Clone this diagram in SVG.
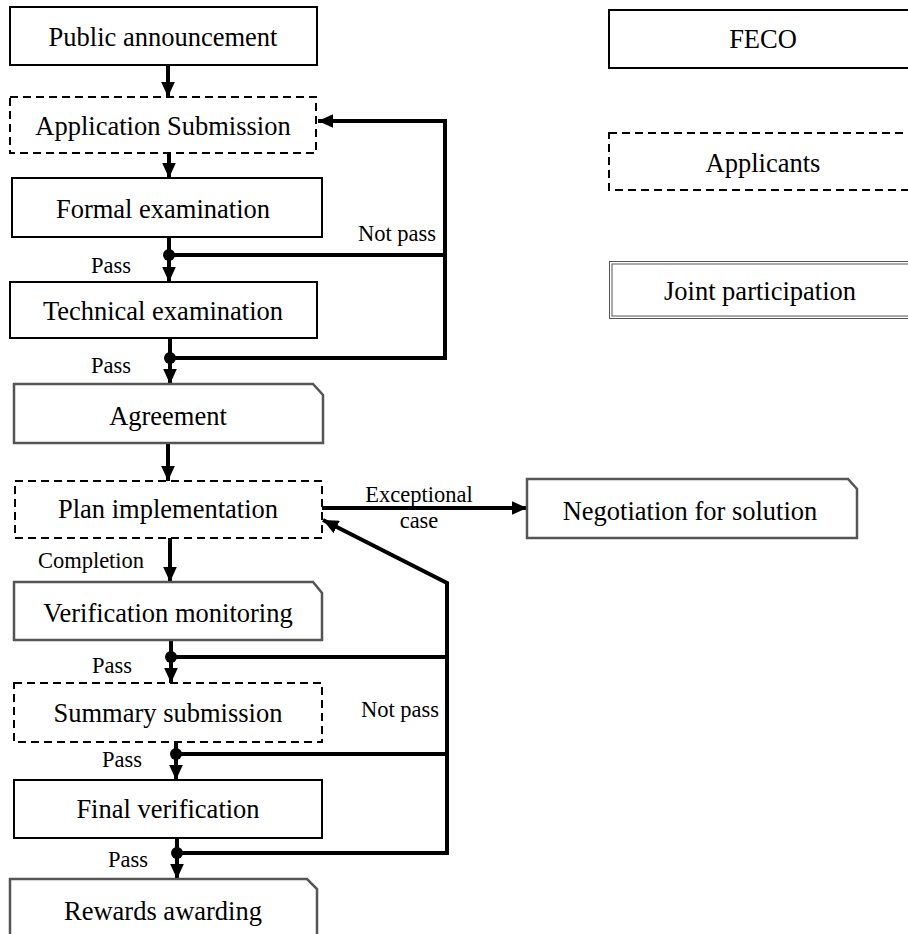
<svg xmlns="http://www.w3.org/2000/svg" width="908" height="934" viewBox="0 0 908 934">
<defs>
<marker id="ah" viewBox="0 0 11 10" refX="11" refY="5" markerWidth="3.85" markerHeight="3.5" markerUnits="strokeWidth" orient="auto">
<path d="M0,0 L11,5 L0,10 Z" fill="#000"/>
</marker>
<style>
.solid{fill:#fff;stroke:#000;stroke-width:2}
.dash{fill:#fff;stroke:#000;stroke-width:2;stroke-dasharray:8 5}
.fold{fill:#fff;stroke:#555;stroke-width:2.5}
.dbl{fill:none;stroke:#555;stroke-width:1}
.t{font-family:"Liberation Serif","Times New Roman",serif;font-size:26.5px;fill:#000;text-anchor:middle}
.l{font-family:"Liberation Serif","Times New Roman",serif;font-size:22.5px;fill:#000;text-anchor:middle}
.c{fill:none;stroke:#000;stroke-width:4}
.a{fill:none;stroke:#000;stroke-width:4;marker-end:url(#ah)}
</style>
</defs>
<rect width="908" height="934" fill="#fff"/>

<g id="connectors">
<line class="a" x1="168" y1="65" x2="168" y2="97"/>
<line class="a" x1="169" y1="153" x2="169" y2="178"/>
<line class="c" x1="169" y1="237" x2="169" y2="255"/>
<line class="a" x1="169" y1="255" x2="169" y2="282"/>
<line class="c" x1="170" y1="338" x2="170" y2="358"/>
<line class="a" x1="170" y1="358" x2="170" y2="384"/>
<line class="a" x1="168" y1="443" x2="168" y2="481"/>
<line class="a" x1="170" y1="538" x2="170" y2="582"/>
<line class="c" x1="171" y1="640" x2="171" y2="657"/>
<line class="a" x1="171" y1="657" x2="171" y2="683"/>
<line class="c" x1="176" y1="742" x2="176" y2="754"/>
<line class="a" x1="176" y1="754" x2="176" y2="780"/>
<line class="c" x1="177" y1="838" x2="177" y2="853"/>
<line class="a" x1="177" y1="853" x2="177" y2="879"/>
<polyline class="c" points="169,255 445,255"/>
<polyline class="a" points="170,358 445,358 445,121 318,121"/>
<polyline class="c" points="171,657 447,657"/>
<polyline class="c" points="176,754 447,754"/>
<polyline class="a" points="177,853 447,853 447,583 323,520"/>
<line class="a" x1="322" y1="508" x2="527" y2="508"/>
<g fill="#000">
<circle cx="169" cy="255" r="6"/>
<circle cx="170" cy="358" r="6"/>
<circle cx="171" cy="657" r="6"/>
<circle cx="176" cy="754" r="6"/>
<circle cx="177" cy="853" r="6"/>
</g>
<text class="l" x="397" y="241">Not pass</text>
<text class="l" x="111" y="273">Pass</text>
<text class="l" x="111" y="373">Pass</text>
<text class="l" x="419" y="502">Exceptional</text>
<text class="l" x="419" y="528">case</text>
<text class="l" x="91" y="568">Completion</text>
<text class="l" x="112" y="673">Pass</text>
<text class="l" x="400" y="717">Not pass</text>
<text class="l" x="122" y="767">Pass</text>
<text class="l" x="128" y="867">Pass</text>
</g>

<g id="n-public"><rect class="solid" x="10" y="7" width="307" height="58"/><text class="t" x="163" y="46">Public announcement</text></g>
<g id="n-appsub"><rect class="dash" x="10" y="97" width="306" height="56"/><text class="t" x="163" y="135">Application Submission</text></g>
<g id="n-formal"><rect class="solid" x="12" y="178" width="310" height="59"/><text class="t" x="163" y="218">Formal examination</text></g>
<g id="n-tech"><rect class="solid" x="10" y="282" width="307" height="56"/><text class="t" x="163" y="320">Technical examination</text></g>
<g id="n-agree"><path class="fold" d="M14,384 H313 L323,395 V443 H14 Z"/><text class="t" x="168" y="425">Agreement</text></g>
<g id="n-plan"><rect class="dash" x="15" y="481" width="307" height="57"/><text class="t" x="168" y="518">Plan implementation</text></g>
<g id="n-nego"><path class="fold" d="M527,479 H848 L857,489 V538 H527 Z"/><text class="t" x="690" y="520">Negotiation for solution</text></g>
<g id="n-verif"><path class="fold" d="M14,582 H313 L322,593 V640 H14 Z"/><text class="t" x="168" y="622">Verification monitoring</text></g>
<g id="n-summary"><rect class="dash" x="14" y="683" width="308" height="59"/><text class="t" x="168" y="722">Summary submission</text></g>
<g id="n-final"><rect class="solid" x="14" y="780" width="308" height="58"/><text class="t" x="168" y="818">Final verification</text></g>
<g id="n-rewards"><path class="fold" d="M10,879 H307 L317,889 V950 H10 Z"/><text class="t" x="163" y="920">Rewards awarding</text></g>

<g id="legend-feco"><rect class="solid" x="609" y="10" width="310" height="58"/><text class="t" x="763" y="48">FECO</text></g>
<g id="legend-applicants"><rect class="dash" x="609" y="133" width="310" height="57"/><text class="t" x="763" y="172">Applicants</text></g>
<g id="legend-joint"><rect fill="#fff" x="609" y="261" width="310" height="58"/><rect class="dbl" x="609.5" y="261.5" width="310" height="57"/><rect class="dbl" x="612" y="264" width="310" height="52"/><text class="t" x="760" y="300">Joint participation</text></g>
</svg>
